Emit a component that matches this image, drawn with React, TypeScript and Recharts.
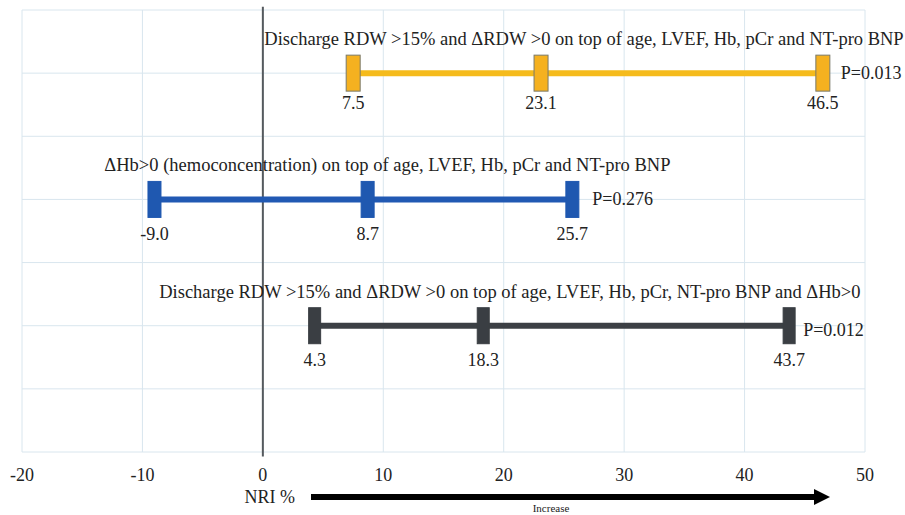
import {
  CartesianGrid,
  ComposedChart,
  LabelList,
  ReferenceDot,
  ReferenceLine,
  Scatter,
  XAxis,
  YAxis,
} from "recharts"

document.body.style.margin = "0"

const xTicks = [-20, -10, 0, 10, 20, 30, 40, 50]
const rowTicks = [0, 1, 2, 3, 4, 5, 6, 7]

const rowTitles = [
  "Discharge RDW >15% and ΔRDW >0 on top of age, LVEF, Hb, pCr and NT-pro BNP",
  "ΔHb>0 (hemoconcentration) on top of age, LVEF, Hb, pCr and NT-pro BNP",
  "Discharge RDW >15% and ΔRDW >0 on top of age, LVEF, Hb, pCr, NT-pro BNP and ΔHb>0",
]
const rowIndex = [1, 3, 5]
const rdwValues = [7.5, 23.1, 46.5]
const hbValues = [-9.0, 8.7, 25.7]
const combinedValues = [4.3, 18.3, 43.7]
const pLabels = ["P=0.013", "P=0.276", "P=0.012"]

const FONT = "'Liberation Serif', 'DejaVu Serif', 'Times New Roman', Times, serif"

type Style = {
  line: string
  fill: string
  stroke: string
  w: number
  h: number
  labelDy: number
  titleDx: number
  pDx: number
  pDy: number
}

const styles: Style[] = [
  { line: "#f5bb1c", fill: "#f5b120", stroke: "#7a7a6a", w: 14, h: 36, labelDy: 30, titleDx: -4, pDx: 18, pDy: 0 },
  { line: "#2159b3", fill: "#1f58b0", stroke: "#1f58b0", w: 13, h: 36, labelDy: 35, titleDx: 24, pDx: 20, pDy: 0 },
  { line: "#3c4045", fill: "#3a3e43", stroke: "#3a3e43", w: 12, h: 36, labelDy: 34, titleDx: -42, pDx: 14, pDy: 4 },
]

const seriesValues = [rdwValues, hbValues, combinedValues]

const rows = seriesValues.map((vals, i) => ({
  title: rowTitles[i],
  p: pLabels[i],
  y: rowIndex[i],
  data: vals.map((v) => ({ x: v, y: rowIndex[i], label: v.toFixed(1) })),
  mid: (Math.min(...vals) + Math.max(...vals)) / 2,
  last: Math.max(...vals),
  style: styles[i],
}))

const AxisArrow = (props: any) => {
  const vb = props.viewBox || { x: 22, y: 452, width: 843 }
  const y = vb.y + 45
  const x0 = vb.x + 289
  const x1 = vb.x + 808
  return (
    <g>
      <text x={x0 - 16} y={y} textAnchor="end" dominantBaseline="central" fontFamily={FONT} fontSize={18} fill="#222">
        NRI %
      </text>
      <line x1={x0} y1={y} x2={x1 - 14} y2={y} stroke="#000" strokeWidth={6} />
      <polygon points={`${x1 - 16},${y - 8} ${x1},${y} ${x1 - 16},${y + 8}`} fill="#000" />
      <text x={vb.x + 529} y={y + 11} textAnchor="middle" dominantBaseline="central" fontFamily={FONT} fontSize={11} fill="#222">
        Increase
      </text>
    </g>
  )
}

export default function App() {
  return (
    <div style={{ width: 905, height: 515, background: "#fff" }}>
      <ComposedChart width={905} height={515} margin={{ top: 10, right: 40, bottom: 33, left: 22 }} style={{ fontFamily: FONT }}>
        <CartesianGrid
          stroke="#d9e6ee"
          strokeWidth={1}
          horizontalValues={rowTicks}
          verticalValues={xTicks}
        />
        <XAxis
          type="number"
          dataKey="x"
          domain={[-20, 50]}
          ticks={xTicks}
          axisLine={false}
          tickLine={false}
          tickMargin={10}
          height={30}
          tick={{ fontSize: 18, fill: "#222", fontFamily: FONT }}
          label={{ content: (p: any) => <AxisArrow {...p} /> }}
        />
        <YAxis type="number" dataKey="y" domain={[0, 7]} ticks={rowTicks} reversed hide />
        <ReferenceLine
          segment={[{ x: 0, y: -0.05 }, { x: 0, y: 7.07 }]}
          stroke="#555a5e"
          strokeWidth={2}
          ifOverflow="visible"
        />
        {rows.map((r) => (
          <Scatter
            key={r.title}
            data={r.data}
            isAnimationActive={false}
            line={{ stroke: r.style.line, strokeWidth: 6 }}
            lineType="joint"
            shape={(p: any) => (
              <rect
                x={p.cx - r.style.w / 2}
                y={p.cy - r.style.h / 2}
                width={r.style.w}
                height={r.style.h}
                fill={r.style.fill}
                stroke={r.style.stroke}
                strokeWidth={1}
              />
            )}
          >
            <LabelList
              dataKey="label"
              content={(p: any) => (
                <text
                  x={p.x + p.width / 2}
                  y={p.y + p.height / 2 + r.style.labelDy}
                  textAnchor="middle"
                  dominantBaseline="central"
                  fontFamily={FONT}
                  fontSize={18}
                  fill="#222"
                >
                  {p.value}
                </text>
              )}
            />
          </Scatter>
        ))}
        {rows.map((r) => (
          <ReferenceDot
            key={"t" + r.title}
            x={r.mid}
            y={r.y}
            r={1}
            fill="none"
            stroke="none"
            ifOverflow="visible"
            label={{
              content: (p: any) => {
                const vb = p.viewBox
                return (
                  <text
                    x={vb.x + vb.width / 2 + r.style.titleDx}
                    y={vb.y + vb.height / 2 - 34}
                    textAnchor="middle"
                    dominantBaseline="central"
                    fontFamily={FONT}
                    fontSize={18.5}
                    fill="#222"
                  >
                    {r.title}
                  </text>
                )
              },
            }}
          />
        ))}
        {rows.map((r) => (
          <ReferenceDot
            key={"p" + r.title}
            x={r.last}
            y={r.y}
            r={1}
            fill="none"
            stroke="none"
            ifOverflow="visible"
            label={{
              content: (p: any) => {
                const vb = p.viewBox
                return (
                  <text
                    x={vb.x + vb.width / 2 + r.style.pDx}
                    y={vb.y + vb.height / 2 + r.style.pDy}
                    textAnchor="start"
                    dominantBaseline="central"
                    fontFamily={FONT}
                    fontSize={18}
                    fill="#222"
                  >
                    {r.p}
                  </text>
                )
              },
            }}
          />
        ))}
      </ComposedChart>
    </div>
  )
}
